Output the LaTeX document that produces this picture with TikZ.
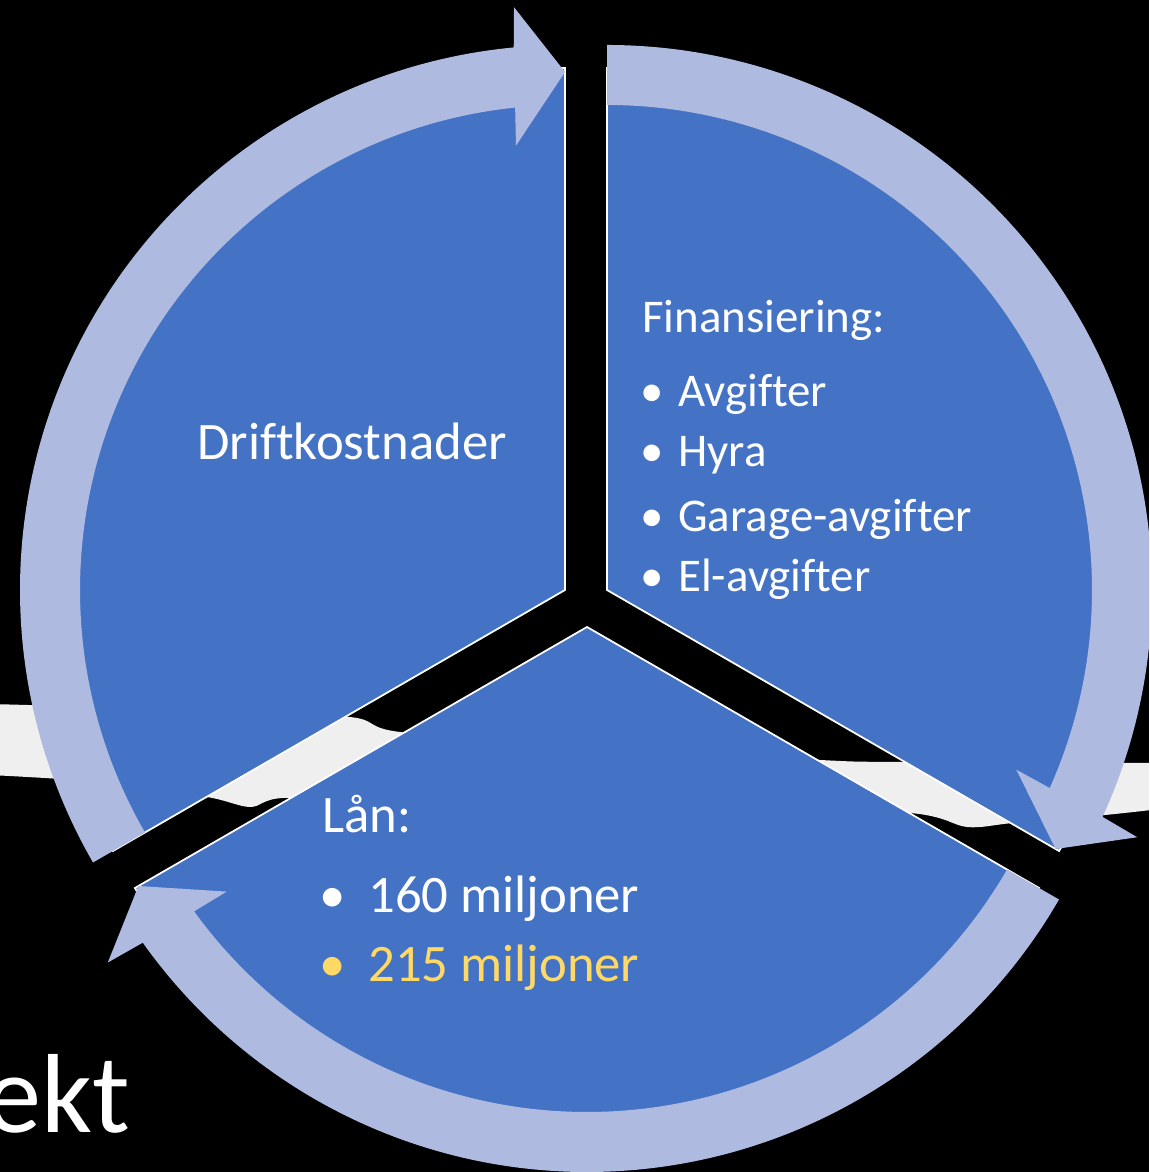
\documentclass[tikz,border=0pt]{standalone}
\usepackage{fontspec}
\setmainfont[Ligatures=NoCommon]{Carlito}
\usetikzlibrary{calc}
\definecolor{segblue}{HTML}{4472C4}
\definecolor{ringblue}{HTML}{AEBADF}
\definecolor{lanyellow}{HTML}{FFD966}
\definecolor{brushwhite}{HTML}{EFEFEF}
\def\segment[#1](#2)(#3:#4){\draw[#1] (#2) -- ++(#3:522) arc (#3:#4:522) -- cycle;}
\def\ringarrow[#1](#2)(#3:#4){\fill[#1] ($(#2)+(#3:545)$) arc (#3:#4+5.4:545) -- ($(#2)+(#4+5:585)$) -- ($(#2)+(#4:518)$) -- ($(#2)+(#4+6.3:447)$) -- ($(#2)+(#4+5.9:485)$) arc (#4+5.9:#3:485) -- cycle;}
\tikzset{
	lbl/.style={text=white, inner sep=0pt, anchor=base west},
	pkt/.style={text=white, inner sep=0pt, anchor=base},
	finfont/.style={font=\fontsize{26.7}{32}\selectfont},
	lanfont/.style={font=\fontsize{30}{36}\selectfont}
}

\begin{document}
\begin{tikzpicture}[x=0.02cm, y=0.02cm]
	%%%%% START %%%%%
	
	\fill[black] (0, 0) rectangle (1149, 1172);
	\useasboundingbox (0, 0) rectangle (1149, 1172);
	\clip (0, 0) rectangle (1149, 1172);
	
	\fill[brushwhite] plot[smooth] coordinates {(-10, 468) (200, 462) (350, 455) (400, 440) (600, 425) (820, 412) (900, 410) (1160, 409)}
		-- plot[smooth] coordinates {(1160, 363) (1105, 357) (1013, 349) (967, 345) (910, 359) (700, 368) (400, 372) (283, 374) (250, 365) (207, 375) (100, 390) (-10, 397)} -- cycle;
	
	\segment[fill=segblue, draw=white, line width=1pt](565, 582)(90:210)
	\segment[fill=segblue, draw=white, line width=1pt](607, 582)(-30:90)
	\segment[fill=segblue, draw=white, line width=1pt](587, 545)(210:330)
	
	\ringarrow[ringblue](565, 582)(210:90)
	\ringarrow[ringblue](607, 582)(90:-30)
	\ringarrow[ringblue](587, 545)(-30:-150)
	
	\node[lbl, lanfont, anchor=base] (drift) at (352, 712) {Driftkostnader};
	
	\node[lbl, finfont] (fin) at (642, 839) {Finansiering:};
	\node[pkt, finfont] (f1) at (652, 765) {\textbullet};
	\node[lbl, finfont] (avg) at (678, 765) {Avgifter};
	\node[pkt, finfont] (f2) at (652, 705) {\textbullet};
	\node[lbl, finfont] (hyra) at (678, 705) {Hyra};
	\node[pkt, finfont] (f3) at (652, 640) {\textbullet};
	\node[lbl, finfont] (garage) at (678, 640) {Garage-avgifter};
	\node[pkt, finfont] (f4) at (652, 580) {\textbullet};
	\node[lbl, finfont] (el) at (678, 580) {El-avgifter};
	
	\node[lbl, lanfont] (lan) at (322, 339) {Lån:};
	\node[pkt, lanfont] (l1) at (333, 259) {\textbullet};
	\node[lbl, lanfont] (m160) at (368, 259) {160 miljoner};
	\node[pkt, lanfont, text=lanyellow] (l2) at (333, 190) {\textbullet};
	\node[lbl, lanfont, text=lanyellow] (m215) at (368, 190) {215 miljoner};
	
	\node[text=white, inner sep=0pt, anchor=base east, font=\fontsize{64}{72}\selectfont] (rubrik) at (130, 39) {ekt};
	
	%%%%% END %%%%%
\end{tikzpicture}
\end{document}
